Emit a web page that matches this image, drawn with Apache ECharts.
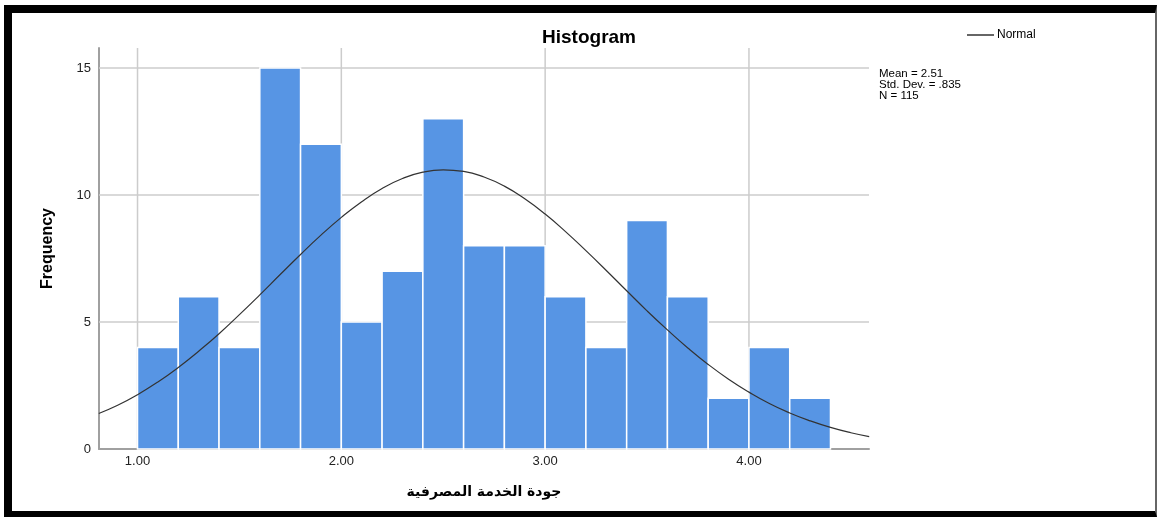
<!DOCTYPE html>
<html>
<head>
<meta charset="utf-8">
<script src="https://cdn.jsdelivr.net/npm/echarts@6/dist/echarts.min.js"></script>
<style>
html,body{margin:0;padding:0;background:#fff;}
#frame{position:absolute;left:4px;top:5px;width:1143px;height:498px;border-left:8px solid #000;border-top:8px solid #000;border-bottom:6px solid #000;border-right:2px solid #666;}
#chart{position:absolute;left:0;top:0;width:1157px;height:517px;}
</style>
</head>
<body>
<div id="frame"></div>
<div id="chart"></div>
<script>
// Histogram bins (left edge, right edge) and counts
const binStarts = [1.0,1.2,1.4,1.6,1.8,2.0,2.2,2.4,2.6,2.8,3.0,3.2,3.4,3.6,3.8,4.0,4.2];
const binWidth = 0.2;
const counts = [4,6,4,15,12,5,7,13,8,8,6,4,9,6,2,4,2];
// Normal curve points
const curveX = [0.81,0.9,1.0,1.1,1.2,1.3,1.4,1.5,1.6,1.7,1.8,1.9,2.0,2.1,2.2,2.3,2.4,2.5,2.6,2.7,2.8,2.9,3.0,3.1,3.2,3.3,3.4,3.5,3.6,3.7,3.8,3.9,4.0,4.1,4.2,4.3,4.4,4.5,4.59];
const curveY = [1.40,1.71,2.14,2.64,3.21,3.85,4.54,5.29,6.07,6.87,7.66,8.42,9.12,9.74,10.26,10.65,10.90,10.99,10.93,10.71,10.35,9.85,9.25,8.56,7.81,7.03,6.23,5.44,4.69,3.98,3.33,2.75,2.24,1.79,1.42,1.11,0.85,0.64,0.49];
const xTicks = [1,2,3,4];
const yTicks = [0,5,10,15];
const statsLines = ['Mean = 2.51','Std. Dev. = .835','N = 115'];

const X_MIN = 0.811, X_MAX = 4.589, Y_MAX = 15.79;
const barData = binStarts.map((s,i)=>[s, s+binWidth, counts[i]]);
const lineData = curveX.map((x,i)=>[x, curveY[i]]);
const FONT = 'Liberation Sans, Arial, sans-serif';

const chart = echarts.init(document.getElementById('chart'));
chart.setOption({
  animation:false,
  textStyle:{fontFamily:FONT},
  title:{text:'Histogram',left:584,top:23,textAlign:'center',
    textStyle:{fontSize:19,fontWeight:'bold',color:'#000',fontFamily:FONT}},
  legend:{data:['Normal'],left:962,top:24,itemWidth:27,itemHeight:1.5,itemGap:3,icon:'rect',
    textStyle:{fontSize:12,color:'#000',padding:[0,0,0,-2]}},
  grid:{left:99,right:288,top:48,bottom:68},
  xAxis:{type:'value',min:X_MIN,max:X_MAX,
    axisLine:{show:true,onZero:false,lineStyle:{color:'#a0a0a0',width:2}},
    axisTick:{show:false},
    splitLine:{show:false},
    axisLabel:{show:false},
    name:'جودة الخدمة المصرفية',nameLocation:'middle',nameGap:36,
    nameTextStyle:{fontSize:14,color:'#000',fontWeight:'bold',fontFamily:'DejaVu Sans, sans-serif'}},
  yAxis:{type:'value',min:0,max:Y_MAX,interval:5,
    axisLine:{show:true,lineStyle:{color:'#a0a0a0',width:2}},
    axisTick:{show:false},
    splitLine:{show:false},
    axisLabel:{fontSize:13,color:'#222',margin:8,showMaxLabel:false,
      formatter:v=>yTicks.indexOf(v)>=0?String(v):''},
    name:'Frequency',nameLocation:'middle',nameGap:43,
    nameTextStyle:{fontSize:16,fontWeight:'bold',color:'#000',fontFamily:FONT}},
  series:[
    {type:'custom',name:'grid-y',silent:true,z:1,
      data:yTicks.filter(t=>t>0).map(t=>[t]),
      renderItem:(params,api)=>{
        const p0 = api.coord([X_MIN,api.value(0)]);
        const p1 = api.coord([X_MAX,api.value(0)]);
        return {type:'line',shape:{x1:p0[0],y1:p0[1],x2:p1[0],y2:p1[1]},style:{stroke:'#cccccc',lineWidth:1.5}};
      }},
    {type:'custom',name:'grid-x',silent:true,z:1,
      data:xTicks.map(t=>[t]),
      renderItem:(params,api)=>{
        const p0 = api.coord([api.value(0),0]);
        const p1 = api.coord([api.value(0),Y_MAX]);
        const lbl = api.value(0).toFixed(2);
        return {type:'group',children:[
          {type:'line',shape:{x1:p0[0],y1:p0[1],x2:p1[0],y2:p1[1]},style:{stroke:'#cccccc',lineWidth:1.5}},
          {type:'text',style:{text:lbl,x:p0[0],y:p0[1]+12,textAlign:'center',textVerticalAlign:'middle',fontSize:13,fill:'#222',fontFamily:FONT}}
        ]};
      }},
    {type:'custom',name:'bars',z:2,
      data:barData,
      renderItem:(params,api)=>{
        const a = api.coord([api.value(0),api.value(2)]);
        const b = api.coord([api.value(1),0]);
        return {type:'rect',shape:{x:a[0],y:a[1],width:b[0]-a[0],height:b[1]-a[1]},
          style:{fill:'#5795e4',stroke:'#ffffff',lineWidth:1.5}};
      }},
    {type:'line',name:'Normal',data:lineData,smooth:true,symbol:'none',z:3,
      lineStyle:{color:'#333333',width:1.2},itemStyle:{color:'#333333'}}
  ],
  graphic:[
    {type:'text',left:879,top:68,style:{text:statsLines.join('\n'),fontSize:11.5,lineHeight:11,fill:'#000',fontFamily:FONT}}
  ]
});
</script>
</body>
</html>
